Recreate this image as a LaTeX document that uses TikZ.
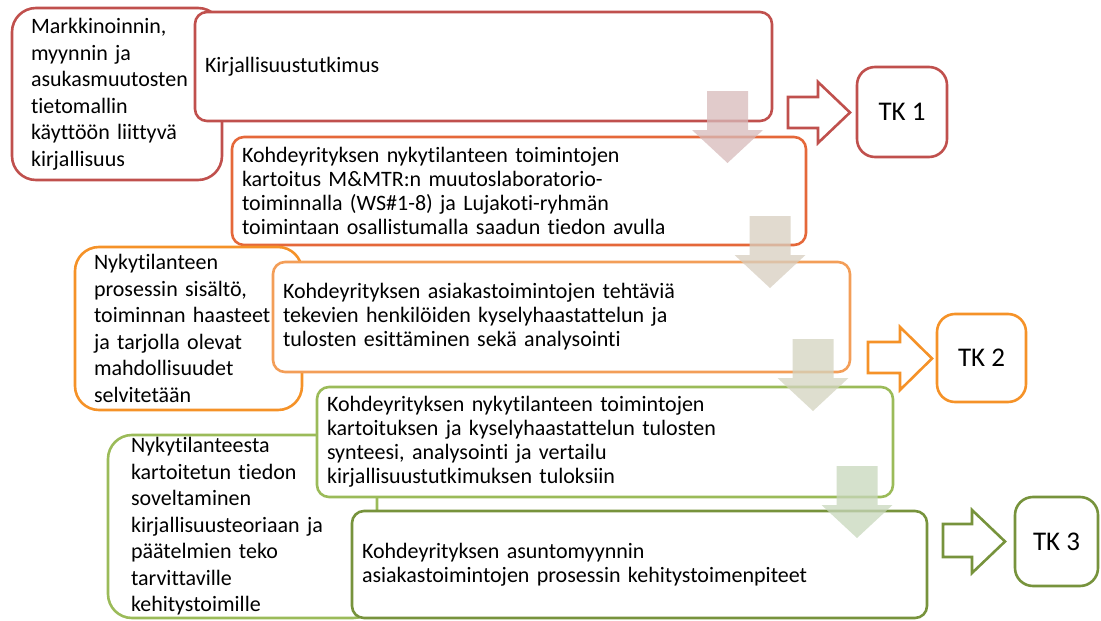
\documentclass[tikz,border=0pt]{standalone}
\usepackage{fontspec}
\setmainfont{Carlito}[Ligatures={NoCommon,NoContextual}, Contextuals=NoAlternate]
\definecolor{cred}{RGB}{192,80,77}
\definecolor{credorange}{RGB}{229,104,58}
\definecolor{corange}{RGB}{245,146,40}
\definecolor{clightorange}{RGB}{243,158,88}
\definecolor{cgreen}{RGB}{155,187,89}
\definecolor{cdarkgreen}{RGB}{119,147,60}
\definecolor{aone}{RGB}{215,186,186}
\definecolor{atwo}{RGB}{215,206,191}
\definecolor{athree}{RGB}{212,212,192}
\definecolor{afour}{RGB}{200,215,188}
\begin{document}
\begin{tikzpicture}[x=1pt,y=-1pt,
  box/.style={draw, line width=2.6pt, fill=white, outer sep=0pt, anchor=north west, align=left, inner ysep=0pt},
  leftbox/.style={box, rounded corners=24pt, inner xsep=19pt, font=\fontsize{22}{26.5}\selectfont},
  midbox/.style={box, rounded corners=12pt, inner xsep=10pt, font=\fontsize{22}{24}\selectfont},
  tkbox/.style={box, rounded corners=18pt, align=center, inner sep=0pt, font=\fontsize{27}{30}\selectfont},
  blockarrow/.style={line width=2.6pt, fill=white, line join=miter},
  downarrow/.style={fill opacity=0.75}
]
\useasboundingbox (0,0) rectangle (1101,621);

% left column: notes on each stage
\node[leftbox, draw=cred, text width=172pt, minimum height=172pt] (l1) at (12,8)
  {Markkinoinnin,\\ myynnin ja\\ asukasmuutosten\\ tietomallin\\ käyttöön liittyvä\\ kirjallisuus};
% process steps
\node[midbox, draw=cred, text width=557pt, minimum height=109pt] (m1) at (195,12)
  {Kirjallisuustutkimus};
\node[midbox, draw=credorange, text width=554pt, minimum height=108pt] (m2) at (232,137)
  {Kohdeyrityksen nykytilanteen toimintojen\\ kartoitus M\&MTR:n muutoslaboratorio-\\ toiminnalla (WS\#1-8) ja Lujakoti-ryhmän\\ toimintaan osallistumalla saadun tiedon avulla};
\node[leftbox, draw=corange, text width=189pt, minimum height=163pt] (l2) at (75,247)
  {Nykytilanteen\\ prosessin sisältö,\\ toiminnan haasteet\\ ja tarjolla olevat\\ mahdollisuudet\\ selvitetään};
\node[midbox, draw=clightorange, text width=557pt, minimum height=110pt] (m3) at (273,262)
  {Kohdeyrityksen asiakastoimintojen tehtäviä\\ tekevien henkilöiden kyselyhaastattelun ja\\ tulosten esittäminen sekä analysointi};
\node[leftbox, draw=cgreen, inner xsep=23pt, text width=223pt, minimum height=183pt] (l3) at (108,435)
  {Nykytilanteesta\\ kartoitetun tiedon\\ soveltaminen\\ kirjallisuusteoriaan ja\\ päätelmien teko\\ tarvittaville\\ kehitystoimille};
\node[midbox, draw=cgreen, text width=556pt, minimum height=110pt] (m4) at (317,387)
  {Kohdeyrityksen nykytilanteen toimintojen\\ kartoituksen ja kyselyhaastattelun tulosten\\ synteesi, analysointi ja vertailu\\ kirjallisuustutkimuksen tuloksiin};
\node[midbox, draw=cdarkgreen, text width=555pt, minimum height=107pt] (m5) at (352,511)
  {Kohdeyrityksen asuntomyynnin\\ asiakastoimintojen prosessin kehitystoimenpiteet};

% outline arrows towards the results
\draw[blockarrow, draw=cred] (788,97) -- (818,97) -- (818,82) -- (850,112.5) -- (818,143) -- (818,128) -- (788,128) -- cycle;
\draw[blockarrow, draw=corange] (868,342) -- (900,342) -- (900,327) -- (932,358.5) -- (900,390) -- (900,373) -- (868,373) -- cycle;
\draw[blockarrow, draw=cdarkgreen] (943,524) -- (972,524) -- (972,510) -- (1005,541.5) -- (972,573) -- (972,557) -- (943,557) -- cycle;

% results
\node[tkbox, draw=cred, minimum width=90pt, minimum height=90pt] (tk1) at (857,67) {TK 1};
\node[tkbox, draw=corange, minimum width=89pt, minimum height=88pt] (tk2) at (937,314) {TK 2};
\node[tkbox, draw=cdarkgreen, minimum width=83pt, minimum height=89pt] (tk3) at (1015,497) {TK 3};

% translucent arrows linking consecutive steps
\foreach \cx/\ty/\col in {727.5/91/aone, 770/216/atwo, 813/339/athree, 857/466/afour}{
  \fill[downarrow, fill=\col] (\cx-20.5,\ty) -- (\cx+20.5,\ty) -- (\cx+20.5,\ty+39)
    -- (\cx+35.5,\ty+39) -- (\cx,\ty+72) -- (\cx-35.5,\ty+39) -- (\cx-20.5,\ty+39) -- cycle;
}
\end{tikzpicture}
\end{document}
